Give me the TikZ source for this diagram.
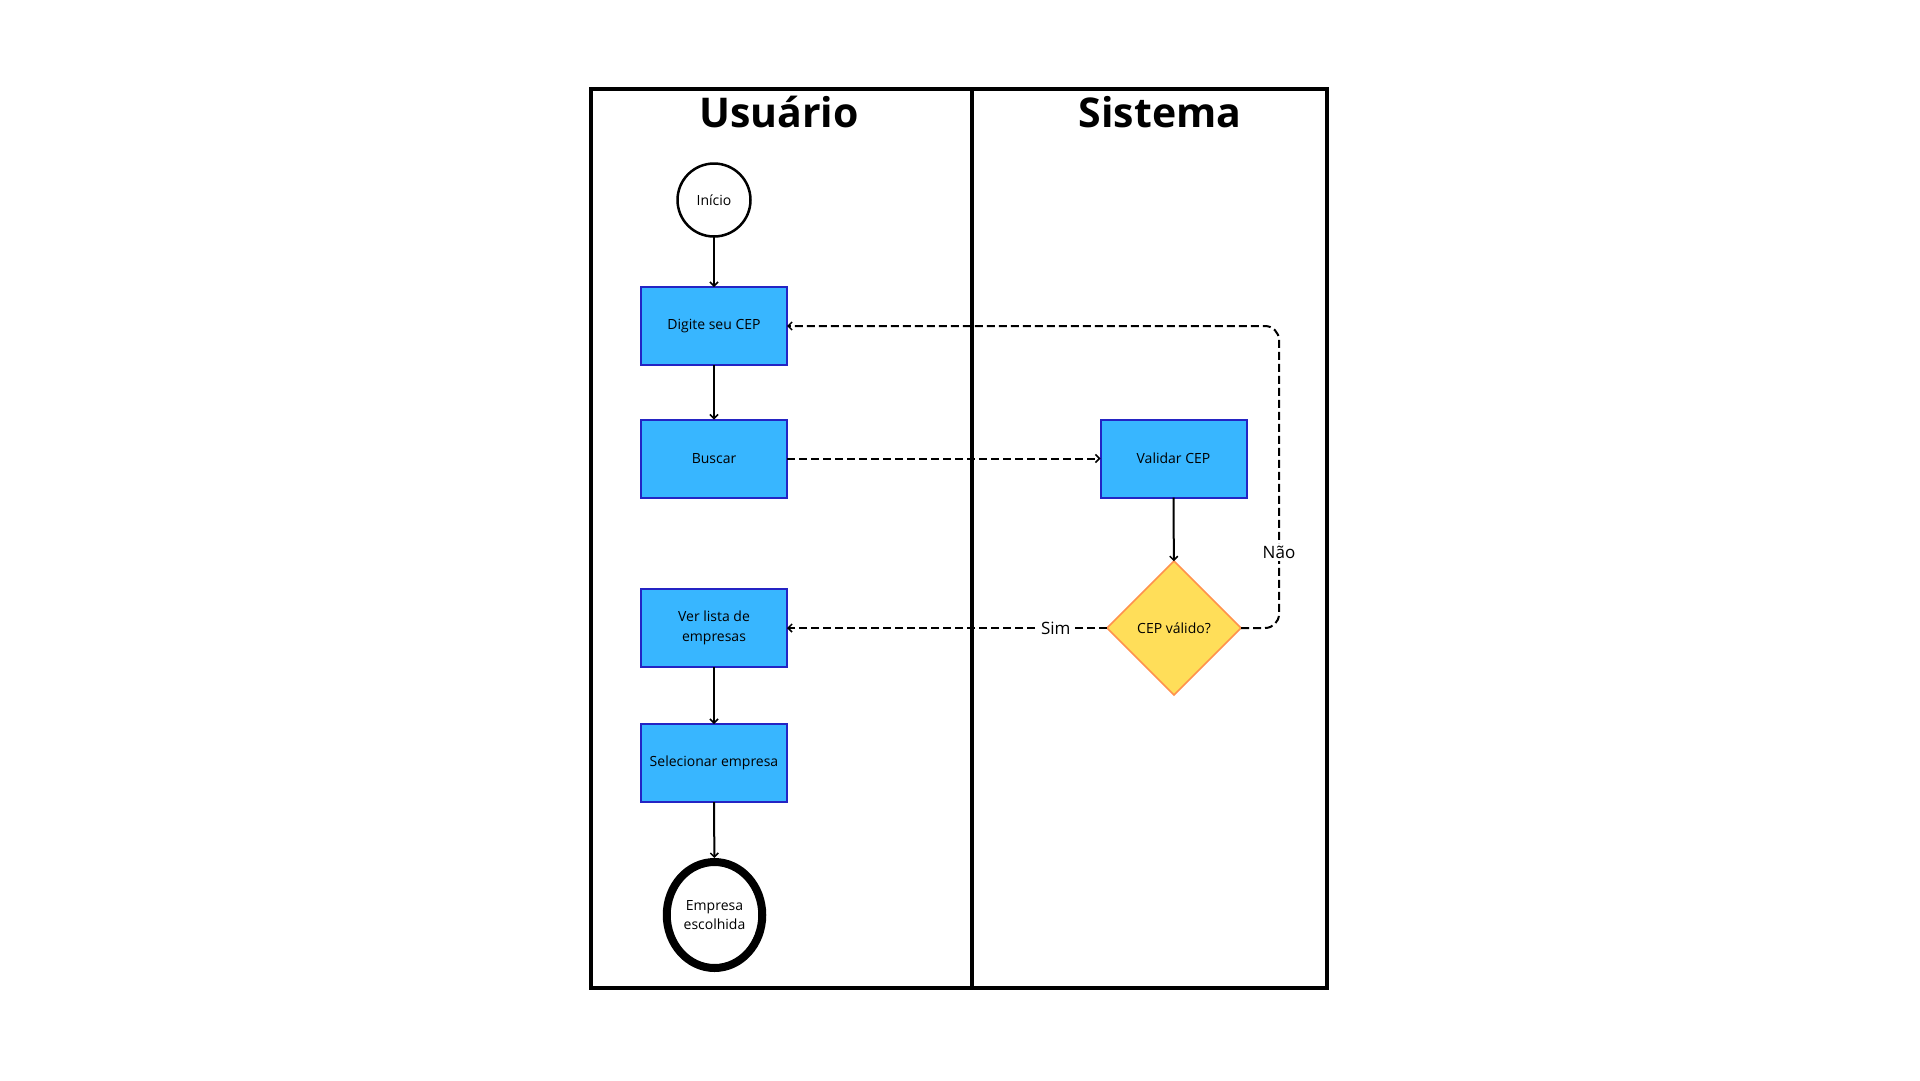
\documentclass[tikz,border=0pt]{standalone}
\usepackage{fontspec}
\setmainfont{Open Sans}
\usetikzlibrary{shapes.geometric,arrows.meta}
\definecolor{boxfill}{HTML}{38B6FF}
\definecolor{boxline}{HTML}{2424C4}
\definecolor{dmfill}{HTML}{FFDE59}
\definecolor{dmline}{HTML}{FF914D}
\tikzset{
  procbox/.style={draw=boxline, fill=boxfill, line width=2pt, minimum width=146pt, minimum height=78pt, inner sep=0pt, outer sep=0pt, align=center, font=\fontsize{14}{19.5}\selectfont},
  decbox/.style={diamond, draw=dmline, fill=dmfill, line width=1.5pt, minimum width=134pt, minimum height=134pt, inner sep=0pt, outer sep=0pt, aspect=1, font=\fontsize{14}{19.5}\selectfont},
  flow/.style={line width=2pt, -{Straight Barb[length=4pt,width=8pt,line width=1.5pt]}},
  dflow/.style={flow, dash pattern=on 8pt off 4pt},
  lbl/.style={fill=white, inner sep=3pt, font=\fontsize{17}{20}\selectfont},
  ttl/.style={font=\fontsize{41}{44}\selectfont\bfseries, anchor=base}
}
\begin{document}
\begin{tikzpicture}[x=1pt,y=-1pt]
\useasboundingbox[fill=white] (0,0) rectangle (1920,1080);
% lanes
\draw[line width=4pt] (591,89) rectangle (1327,988);
\coordinate (divtop) at (972,89);
\coordinate (divbot) at (972,988);
\draw[line width=4pt] (divtop) -- (divbot);
\node[ttl] (tu) at (779,127) {Usuário};
\node[ttl] (ts) at (1160,127) {Sistema};
% nodes
\node[circle, draw, line width=2.5pt, minimum size=73pt, inner sep=0pt, outer sep=0pt, font=\fontsize{14}{19.5}\selectfont] (ini) at (714,200) {Início};
\node[procbox] (dig) at (714,326) {\raisebox{-2pt}{Digite seu CEP}};
\node[procbox] (bus) at (714,458.5) {\raisebox{-2pt}{Buscar}};
\node[procbox] (val) at (1173.5,458.5) {\raisebox{-2pt}{Validar CEP}};
\node[decbox] (dec) at (1174,628) {CEP válido?};
\node[procbox] (ver) at (714,628) {Ver lista de\\empresas};
\node[procbox] (sel) at (714,763) {\raisebox{-2pt}{Selecionar empresa}};
\node[ellipse, draw, line width=8pt, minimum width=95.5pt, minimum height=106pt, inner sep=0pt, outer sep=4pt, align=center, font=\fontsize{14}{19}\selectfont] (fim) at (714.5,915) {Empresa\\escolhida};
% connectors
\draw[flow] (ini) -- (dig);
\draw[flow] (dig) -- (bus);
\draw[dflow] (bus) -- (val);
\draw[flow] (val) -- (dec);
\draw[dflow] (dec.west) -- node[lbl, pos=0.16] {Sim} (ver.east);
\coordinate (nc) at (1279,628);
\coordinate (nt) at (1279,326);
\draw[dflow, rounded corners=14pt] (dec.east) -- (nc) -- node[lbl, pos=0.25, inner sep=2pt] {Não} (nt) -- (dig.east);
\draw[flow] (ver) -- (sel);
\draw[flow] (sel) -- (fim);
\end{tikzpicture}
\end{document}
